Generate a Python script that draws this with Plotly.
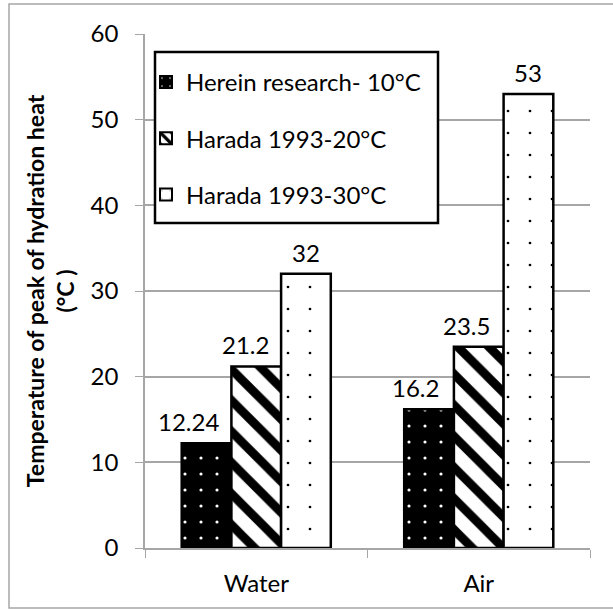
import plotly.graph_objects as go

# Peak hydration-heat temperatures by curing condition
categories = ["Water", "Air"]
series_names = ["Herein research- 10°C", "Harada 1993-20°C", "Harada 1993-30°C"]
herein_10 = [12.24, 16.2]
harada_20 = [21.2, 23.5]
harada_30 = [32, 53]
label_text = [["12.24", "16.2"], ["21.2", "23.5"], ["32", "53"]]
y_ticks = [0, 10, 20, 30, 40, 50, 60]

FONT = "Lato, Liberation Sans, sans-serif"
FS = 24
W, H = 613, 609
L, R, T, B = 145, 23, 34, 61
BARGAP = 0.33

patterns = [
    dict(shape=".", fgcolor="white", bgcolor="black", size=16, solidity=0.03, fillmode="replace"),
    dict(shape="\\", fgcolor="black", bgcolor="white", size=22, solidity=0.4, fillmode="replace"),
    dict(shape=".", fgcolor="black", bgcolor="white", size=22, solidity=0.012, fillmode="replace"),
]

all_series = [herein_10, harada_20, harada_30]

fig = go.Figure()
for i, (name, vals) in enumerate(zip(series_names, all_series)):
    fig.add_trace(go.Bar(
        x=categories, y=vals, name=name,
        marker=dict(color="white", pattern=patterns[i], line=dict(color="black", width=2.5)),
        legendgroup=f"g{i}",
    ))

pw, ph = W - L - R, H - T - B

def px_x(p):
    return (p - L) / pw

def px_y(p):
    return (H - B - p) / ph

# value labels above each bar; short labels next to a taller neighbour sit a bit left
bar_w = pw / len(categories) * (1 - BARGAP) / len(all_series)
nudge = [[-18, -14], [-11, -12], [0, 0]]
annotations = []
for i, vals in enumerate(all_series):
    for j, v in enumerate(vals):
        annotations.append(dict(
            x=categories[j], y=v, xref="x", yref="y",
            text=label_text[i][j], showarrow=False,
            xanchor="center", yanchor="bottom",
            xshift=(i - 1) * bar_w + nudge[i][j], yshift=5,
            font=dict(family=FONT, size=FS, color="black"),
        ))

fig.update_layout(
    width=W, height=H,
    margin=dict(l=L, r=R, t=T, b=B),
    paper_bgcolor="white", plot_bgcolor="white",
    barmode="group", bargap=BARGAP, bargroupgap=0,
    font=dict(family=FONT, size=FS, color="black"),
    showlegend=True,
    legend=dict(
        x=px_x(146), y=px_y(60), xanchor="left", yanchor="top",
        bgcolor="rgba(0,0,0,0)", borderwidth=0,
        font=dict(family=FONT, size=FS, color="black"),
        tracegroupgap=22, traceorder="grouped",
        itemsizing="constant",
    ),
    xaxis=dict(
        showline=True, linecolor="#a6a6a6", linewidth=1.5,
        ticks="outside", tickson="boundaries", ticklen=8, tickcolor="#a6a6a6",
        tickfont=dict(family=FONT, size=FS), ticklabelstandoff=13,
        showgrid=False,
    ),
    yaxis=dict(
        range=[0, 60], tickvals=y_ticks,
        showline=True, linecolor="#a6a6a6", linewidth=1.5,
        ticks="outside", ticklen=8, tickcolor="#a6a6a6",
        showgrid=True, gridcolor="#a6a6a6", gridwidth=1.5,
        tickfont=dict(family=FONT, size=FS), ticklabelstandoff=12,
        title=dict(text="<b>Temperature of peak of hydration heat<br>(°C )</b>",
                   font=dict(family=FONT, size=23), standoff=10),
        zeroline=False,
    ),
    annotations=annotations,
    shapes=[
        dict(type="rect", xref="paper", yref="paper",
             x0=px_x(9), x1=px_x(625), y0=px_y(608), y1=px_y(4),
             line=dict(color="#a6a6a6", width=1.5), layer="below"),
        # legend frame
        dict(type="rect", xref="paper", yref="paper",
             x0=px_x(155), x1=px_x(438), y0=px_y(223), y1=px_y(52),
             line=dict(color="black", width=2.5), fillcolor="white", layer="above"),
    ],
)

fig.write_html("out.html")
